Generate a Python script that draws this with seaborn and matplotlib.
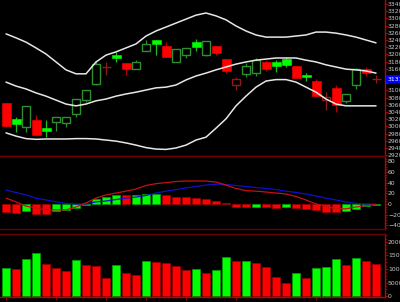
import numpy as np
import pandas as pd
import matplotlib
matplotlib.use("Agg")
import matplotlib.pyplot as plt
import matplotlib.transforms as mtransforms
from matplotlib.ticker import MultipleLocator, AutoMinorLocator, FuncFormatter
import seaborn as sns

# ---------------- data ----------------
opens = [3064, 3021, 2999, 3018, 2996, 3013, 3008, 3034, 3073, 3117,
         3166, 3198, 3175, 3159, 3210, 3240, 3223, 3178, 3198, 3235,
         3198, 3223, 3186, 3115, 3145, 3149, 3180, 3180, 3187, 3169,
         3143, 3126, 3073, 3106, 3071, 3115, 3159, 3131]
highs = [3064, 3027, 3057, 3032, 3018, 3025, 3026, 3076, 3101, 3182,
         3180, 3207, 3175, 3184, 3240, 3240, 3235, 3215, 3218, 3243,
         3237, 3223, 3186, 3138, 3177, 3189, 3184, 3184, 3194, 3169,
         3149, 3132, 3096, 3115, 3089, 3161, 3166, 3143]
lows = [2999, 2983, 2985, 2974, 2970, 2988, 2999, 3027, 3069, 3115,
        3143, 3180, 3143, 3159, 3210, 3198, 3192, 3178, 3189, 3210,
        3195, 3198, 3147, 3101, 3136, 3140, 3155, 3152, 3166, 3134,
        3126, 3085, 3046, 3041, 3064, 3103, 3140, 3120]
closes = [3002, 3007, 3057, 2976, 2988, 3025, 3026, 3076, 3101, 3172,
          3166, 3189, 3159, 3180, 3228, 3230, 3192, 3215, 3218, 3220,
          3237, 3205, 3155, 3131, 3168, 3184, 3159, 3169, 3171, 3134,
          3137, 3085, 3082, 3059, 3089, 3159, 3149, 3131]
prev_close_first = 3090

bb_upper = [3257, 3246, 3234, 3218, 3201, 3179, 3157, 3146, 3146, 3179,
            3198, 3207, 3218, 3229, 3251, 3265, 3276, 3287, 3298, 3309,
            3315, 3307, 3296, 3279, 3265, 3254, 3248, 3248, 3248, 3251,
            3254, 3262, 3262, 3259, 3254, 3248, 3240, 3232]
bb_middle = [3123, 3112, 3104, 3093, 3084, 3073, 3062, 3057, 3062, 3071,
             3076, 3084, 3090, 3095, 3101, 3107, 3109, 3115, 3129, 3140,
             3148, 3157, 3165, 3173, 3179, 3184, 3187, 3190, 3190, 3190,
             3184, 3179, 3171, 3165, 3159, 3157, 3154, 3148]
bb_lower = [2982, 2973, 2966, 2964, 2965, 2965, 2965, 2966, 2966, 2965,
            2962, 2959, 2954, 2948, 2941, 2937, 2936, 2940, 2948, 2962,
            2970, 2995, 3021, 3057, 3084, 3109, 3126, 3130, 3130, 3123,
            3109, 3095, 3076, 3062, 3057, 3057, 3057, 3057]

macd_dif = [11, 4, -4, -7.5, -11, -11, -11, -5.6, 2, 11,
            17, 20.5, 24, 28, 34.6, 38, 40, 42, 43, 43,
            43, 41, 35.5, 29, 25, 24, 22.4, 20.5, 18.7, 14,
            7.5, 0, -4, -9, -9, -5.6, -3, -1]
macd_dea = [26, 21.5, 17, 11, 7.5, 4, 1, 0, 0, 4,
            5.6, 8.4, 11, 13, 16, 20.5, 24, 27, 30, 32.7,
            35.5, 37, 36.4, 34.6, 32.7, 30.8, 29, 27, 24, 21.5,
            18.7, 15, 11, 7.5, 3.7, 1, 0, 0]
macd_hist = [-15, -17, -13, -18, -18.5, -13, -12, -7, -1, 8.7,
             12.5, 17, 16, 17, 19, 19.5, 17, 14, 12.5, 10.6,
             10, 6, 1, -6, -6.5, -6, -6.3, -6.6, -6, -8,
             -9, -12, -15, -15.5, -14, -9, -4, -2]
prev_hist_first = -14

volumes = [10200, 10100, 13700, 15900, 11800, 10200, 9400, 13300, 11300, 11000,
           6700, 11400, 8700, 7900, 13100, 12400, 12100, 11100, 9700, 10000,
           8500, 9500, 14400, 12900, 13100, 12100, 10700, 6900, 4700, 8600,
           6800, 10300, 10600, 13700, 11400, 14000, 13100, 11700]
prev_volume_first = 9000

date_positions = [0, 5, 10, 14, 18, 23, 31]
date_labels = ["12/12", "19/12", "27/12", "03/01", "09/01", "16/01", "30/01"]
last_price_label = "3131"

# ---------------- styling ----------------
sns.set_theme(style="dark", rc={"axes.facecolor": "black",
                                "figure.facecolor": "black",
                                "savefig.facecolor": "black"})
plt.rcParams["font.family"] = ["Liberation Sans Narrow", "DejaVu Sans"]

RED = "#ff0000"
RED_DARK = "#b00000"
GREEN = "#00ff00"
GREEN_WICK = "#1fbf1f"
HOLLOW_GREEN = "#2f8f2f"
HOLLOW_RED = "#8c1c1c"
AXIS_RED = "#c00000"
SEP_RED = "#6a0000"
LABEL = "#c8c8c8"
FS = 4.4

n = len(closes)
x = np.arange(n)
o = np.array(opens, float)
h = np.array(highs, float)
l = np.array(lows, float)
c = np.array(closes, float)
prev_c = np.concatenate([[prev_close_first], c[:-1]])
up = c > prev_c

fig = plt.figure(figsize=(4.0, 3.02), dpi=100)
W = 385 / 400
ax1 = fig.add_axes([0, (302 - 156) / 302, W, 156 / 302])
ax2 = fig.add_axes([0, (302 - 228.5) / 302, W, 72.5 / 302])
ax3 = fig.add_axes([0, 5 / 302, W, 63.5 / 302])

XL = (-0.6, (385 - 6) / 10)

# ---------------- candles ----------------
filled = c < o
hollow = c > o
cross = c == o
body_col = np.where(up, GREEN, RED)
wick_col = []
for i in range(n):
    if filled[i]:
        wick_col.append(GREEN_WICK if up[i] else RED_DARK)
    else:
        wick_col.append(HOLLOW_GREEN if up[i] else HOLLOW_RED)
ax1.vlines(x, l, h, colors=wick_col, lw=0.9, zorder=2)
fi = np.where(filled)[0]
ax1.bar(fi, o[fi] - c[fi], bottom=c[fi], width=0.9,
        color=body_col[fi], edgecolor=body_col[fi], lw=0.4, zorder=3)
hi = np.where(hollow)[0]
ax1.bar(hi, c[hi] - o[hi], bottom=o[hi], width=0.82, facecolor="black",
        edgecolor=[wick_col[i] for i in hi], lw=1.0, zorder=3)
ci = np.where(cross)[0]
ax1.hlines(c[ci], ci - 0.45, ci + 0.45,
           colors=[wick_col[i] for i in ci], lw=1.0, zorder=3)

for band in (bb_upper, bb_middle, bb_lower):
    sns.lineplot(x=x, y=band, ax=ax1, color="#e6e6e6", lw=1.1, zorder=4)

ax1.set_xlim(*XL)
ax1.set_ylim(2917.7, 3351.1)
ax1.yaxis.set_major_locator(MultipleLocator(20))
last_val = float(c[-1])
ax1.yaxis.set_major_formatter(FuncFormatter(
    lambda v, pos: "" if abs(v - last_val) < 12 else f"{v:.0f}"))

tr = mtransforms.blended_transform_factory(ax1.transAxes, ax1.transData)
ax1.text(1.006, last_val, last_price_label, transform=tr, ha="left",
         va="center", fontsize=FS, color="white", zorder=10, clip_on=False,
         bbox=dict(boxstyle="square,pad=0.25", fc="#0000ff", ec="none"))

# ---------------- MACD ----------------
hist = np.array(macd_hist, float)
prev_h = np.concatenate([[prev_hist_first], hist[:-1]])
df_m = pd.DataFrame({"i": x, "hist": hist,
                     "dir": np.where(hist >= prev_h, "up", "down")})
sns.barplot(data=df_m, x="i", y="hist", hue="dir",
            palette={"up": GREEN, "down": RED}, native_scale=True,
            dodge=False, width=0.85, saturation=1, errorbar=None,
            legend=False, ax=ax2, zorder=2)
sns.lineplot(x=x, y=macd_dea, ax=ax2, color="#1010c8", lw=0.9, zorder=4)
sns.lineplot(x=x, y=macd_dif, ax=ax2, color="#c81010", lw=0.9, zorder=5)
ax2.set_xlim(*XL)
ax2.set_ylim(-45.8, 89.7)
ax2.yaxis.set_major_locator(MultipleLocator(20))
ax2.yaxis.set_minor_locator(AutoMinorLocator(4))

# ---------------- volume ----------------
vol = np.array(volumes, float)
prev_v = np.concatenate([[prev_volume_first], vol[:-1]])
df_v = pd.DataFrame({"i": x, "vol": vol,
                     "dir": np.where(vol > prev_v, "up", "down")})
sns.barplot(data=df_v, x="i", y="vol", hue="dir",
            palette={"up": GREEN, "down": RED}, native_scale=True,
            dodge=False, width=0.85, saturation=1, errorbar=None,
            legend=False, ax=ax3, zorder=2)
ax3.set_xlim(*XL)
ax3.set_ylim(-345, 23100)
ax3.yaxis.set_major_locator(MultipleLocator(5000))
ax3.yaxis.set_minor_locator(AutoMinorLocator(4))
ax3.yaxis.set_major_formatter(FuncFormatter(lambda v, pos: f"{v:.0f}"))

for ax in (ax2, ax3):
    for p in ax.patches:
        fc = p.get_facecolor()
        p.set_edgecolor((fc[0] * 0.6, fc[1] * 0.6, fc[2] * 0.6, 1))
        p.set_linewidth(0.6)

# ---------------- axes ----------------
for ax in (ax1, ax2, ax3):
    ax.set_facecolor("black")
    ax.grid(False)
    ax.set_xlabel("")
    ax.set_ylabel("")
    ax.yaxis.tick_right()
    ax.tick_params(axis="y", which="major", right=True, left=False,
                   labelright=True, labelleft=False, colors=AXIS_RED,
                   labelcolor=LABEL, labelsize=FS, length=1.8, width=0.6, pad=0.4)
    ax.tick_params(axis="y", which="minor", right=True, left=False,
                   colors=AXIS_RED, length=1.1, width=0.5)
    ax.spines["left"].set_visible(False)
    ax.spines["right"].set_color(AXIS_RED)
    ax.spines["right"].set_linewidth(1.0)
    for s in ("top", "bottom"):
        ax.spines[s].set_color(SEP_RED)
        ax.spines[s].set_linewidth(1.0)

ax1.spines["top"].set_visible(False)
ax3.spines["bottom"].set_color(AXIS_RED)

for ax in (ax1, ax2):
    ax.set_xticks([])

ax3.set_xticks(date_positions)
ax3.set_xticklabels(date_labels, ha="left")
ax3.tick_params(axis="x", bottom=True, colors=AXIS_RED, labelcolor=LABEL,
                labelsize=FS, length=2.5, width=0.6, pad=0.5)

fig.savefig("out.png", dpi=100, facecolor="black")
